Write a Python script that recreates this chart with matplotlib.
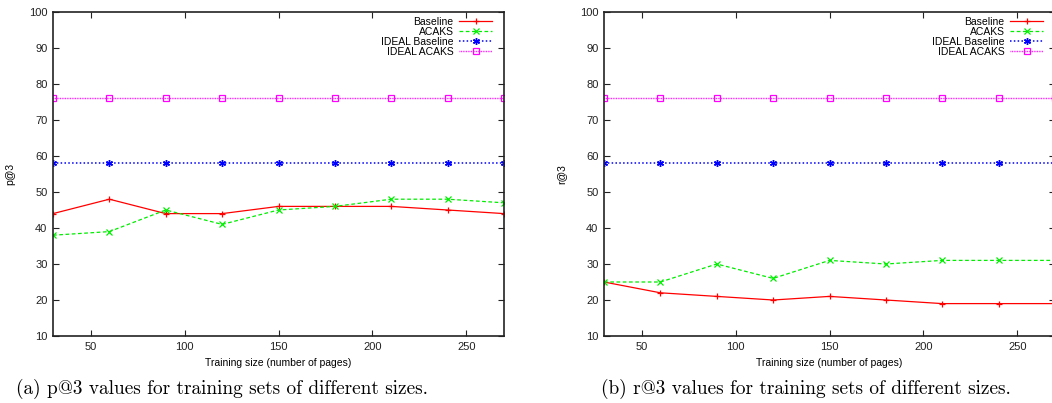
import matplotlib
matplotlib.use("Agg")
import matplotlib.pyplot as plt

plt.rcParams["font.family"] = ["Liberation Sans", "DejaVu Sans"]

sizes = [30, 60, 90, 120, 150, 180, 210, 240, 270]

# p@3
p_baseline = [44, 48, 44, 44, 46, 46, 46, 45, 44]
p_acaks = [38, 39, 45, 41, 45, 46, 48, 48, 47]
p_ideal_baseline = [58, 58, 58, 58, 58, 58, 58, 58, 58]
p_ideal_acaks = [76, 76, 76, 76, 76, 76, 76, 76, 76]

# r@3
r_baseline = [25, 22, 21, 20, 21, 20, 19, 19, 19]
r_acaks = [25, 25, 30, 26, 31, 30, 31, 31, 31]
r_ideal_baseline = [58, 58, 58, 58, 58, 58, 58, 58, 58]
r_ideal_acaks = [76, 76, 76, 76, 76, 76, 76, 76, 76]

series_names = ["Baseline", "ACAKS", "IDEAL Baseline", "IDEAL ACAKS"]
yticks = list(range(10, 101, 10))
xticks = [50, 100, 150, 200, 250]

captions = ["(a) p@3 values for training sets of different sizes.",
            "(b) r@3 values for training sets of different sizes."]

W, H = 1052, 403
fig = plt.figure(figsize=(W / 100, H / 100), dpi=100)


def draw(ax, vals, ylabel):
    base, acaks, ib, ia = vals
    ax.plot(sizes, base, color="#ff0000", lw=0.9, marker="+", ms=5, mew=0.9,
            label=series_names[0])
    ax.plot(sizes, acaks, color="#00ee00", lw=0.9, ls=(0, (3, 2)), marker="x", ms=4,
            mew=0.9, label=series_names[1])
    ax.plot(sizes, ib, color="#0000ff", lw=1.1, ls=(0, (1, 1.5)), marker=(6, 2, 0), ms=5,
            mew=1.0, label=series_names[2])
    ax.plot(sizes, ia, color="#ff00ff", lw=1.0, ls=(0, (0.6, 0.6)), marker="s", ms=4.5,
            mfc="none", mew=0.9, label=series_names[3])
    ax.set_xlim(30, 270)
    ax.set_ylim(10, 100)
    ax.set_xticks(xticks)
    ax.set_yticks(yticks)
    ax.tick_params(direction="in", top=True, right=True, labelsize=8, length=4,
                   width=0.8, colors="#222222", pad=4)
    for s in ax.spines.values():
        s.set_linewidth(1.2)
        s.set_color("#222222")
    ax.set_xlabel("Training size (number of pages)", fontsize=7.5, labelpad=5)
    ax.set_ylabel(ylabel, fontsize=7.5, labelpad=10)
    ax.legend(loc="upper right", bbox_to_anchor=(0.974, 0.985), frameon=False,
              markerfirst=False, fontsize=7.5, handlelength=3.2, handletextpad=0.5,
              labelspacing=0.0, borderpad=0, borderaxespad=0)


ax1 = fig.add_axes([53 / W, (H - 336) / H, 451 / W, 324 / H])
draw(ax1, [p_baseline, p_acaks, p_ideal_baseline, p_ideal_acaks], "p@3")

ax2 = fig.add_axes([604 / W, (H - 336) / H, 451 / W, 324 / H])
draw(ax2, [r_baseline, r_acaks, r_ideal_baseline, r_ideal_acaks], "r@3")

fig.text(222 / W, 1 - 389 / H, captions[0], ha="center", va="center", fontsize=13.9,
         family=["cmr10", "DejaVu Serif"])
fig.text(806 / W, 1 - 389 / H, captions[1], ha="center", va="center", fontsize=13.9,
         family=["cmr10", "DejaVu Serif"])

fig.savefig("out.png", dpi=100)
